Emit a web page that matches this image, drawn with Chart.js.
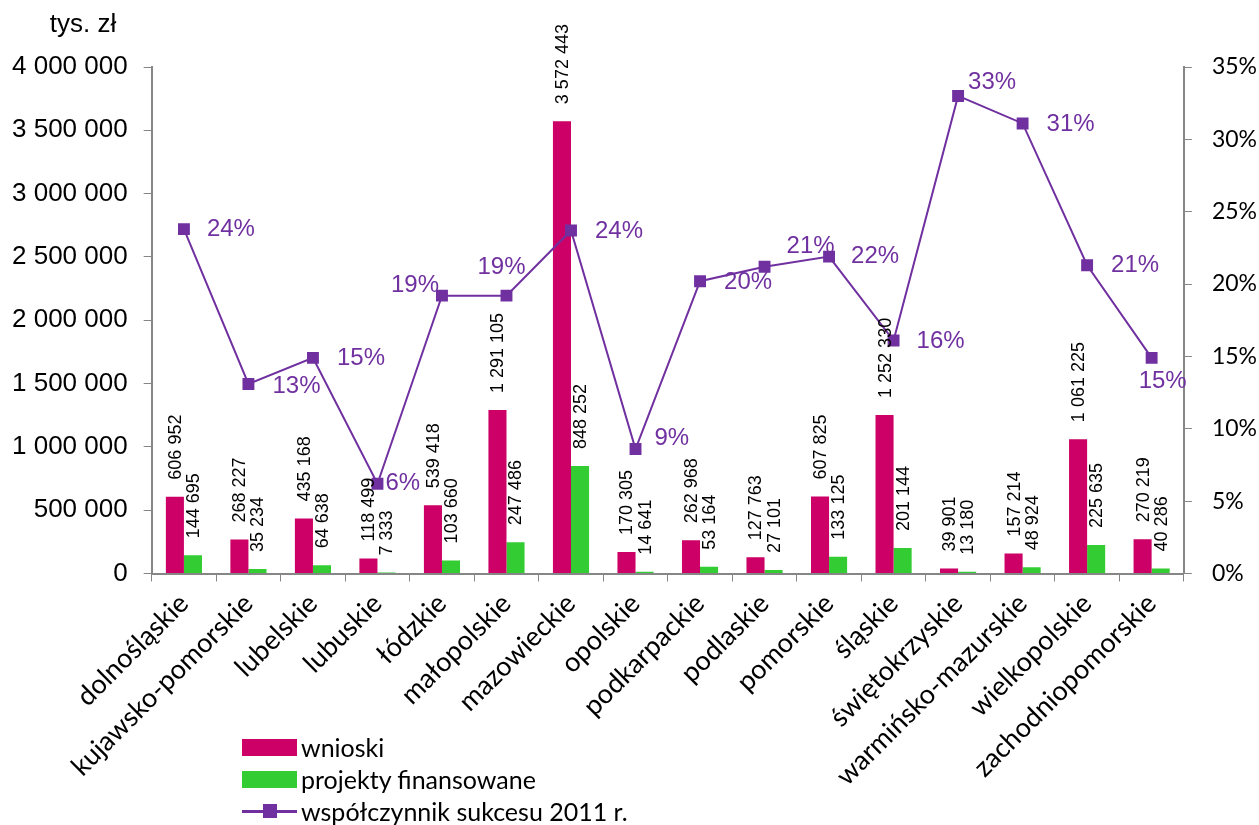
<!DOCTYPE html>
<html>
<head>
<meta charset="utf-8">
<script src="https://cdn.jsdelivr.net/npm/chart.js@4.4.1/dist/chart.umd.min.js"></script>
<style>
  body { margin: 0; background: #fff; }
  #wrap { position: relative; width: 1259px; height: 825px; }
  #legend { position: absolute; left: 242px; top: 731px; font-family: Lato, "Open Sans", sans-serif; font-size: 25px; color: #000; }
  #legend .item { display: flex; align-items: center; height: 32px; }
  #legend .sw { width: 55px; height: 17px; margin-right: 4px; position: relative; }
</style>
</head>
<body>
<div id="wrap">
  <canvas id="chart"></canvas>
  <div id="legend"></div>
</div>
<script>
// categories (voivodeships)
const categories = ['dolnośląskie', 'kujawsko-pomorskie', 'lubelskie', 'lubuskie', 'łódzkie', 'małopolskie',
  'mazowieckie', 'opolskie', 'podkarpackie', 'podlaskie', 'pomorskie', 'śląskie', 'świętokrzyskie',
  'warmińsko-mazurskie', 'wielkopolskie', 'zachodniopomorskie'];

// tys. zł
const wnioski = [606952, 268227, 435168, 118499, 539418, 1291105, 3572443, 170305, 262968, 127763,
  607825, 1252330, 39901, 157214, 1061225, 270219];
const projekty = [144695, 35234, 64638, 7333, 103660, 247486, 848252, 14641, 53164, 27101,
  133125, 201144, 13180, 48924, 225635, 40286];

// %
const wspolczynnik = [23.8, 13.1, 14.9, 6.2, 19.2, 19.2, 23.7, 8.6, 20.2, 21.2, 21.9, 16.1, 33.0, 31.1, 21.3, 14.9];

// where each % label sits relative to its marker (left edge of text, vertical centre)
const pctLabelOffset = [[23, 0], [24, 2], [24, 0], [8, 0], [-51, -10], [-29, -28], [24, 1], [19, -11],
  [24, 1], [22, -20], [22, 0], [23, 1], [10, -14], [24, 1], [24, 0], [-13, 23]];

const MAGENTA = '#CC0066';
const GREEN = '#33CC33';
const PURPLE = '#7030A0';
const AXIS = '#868686';

function fmt(v) {
  return String(v).replace(/\B(?=(\d{3})+(?!\d))/g, ' ');
}

// draws the rotated value labels above bars and the % labels by the line
const valueLabels = {
  id: 'valueLabels',
  afterDatasetsDraw(chart) {
    const ctx = chart.ctx;
    ctx.save();
    [0, 1].forEach(di => {
      const meta = chart.getDatasetMeta(di);
      const data = chart.data.datasets[di].data;
      meta.data.forEach((bar, i) => {
        ctx.save();
        ctx.translate(bar.x + 1, bar.y - 17);
        ctx.rotate(-Math.PI / 2);
        ctx.font = '18px "Liberation Sans", Arial, sans-serif';
        ctx.fillStyle = '#000';
        ctx.textAlign = 'left';
        ctx.textBaseline = 'middle';
        ctx.fillText(fmt(data[i]), 0, 0);
        ctx.restore();
      });
    });
    const lineMeta = chart.getDatasetMeta(2);
    ctx.font = '24px "Liberation Sans", Arial, sans-serif';
    ctx.fillStyle = PURPLE;
    ctx.textAlign = 'left';
    ctx.textBaseline = 'middle';
    lineMeta.data.forEach((pt, i) => {
      const [dx, dy] = pctLabelOffset[i];
      ctx.fillText(Math.round(wspolczynnik[i]) + '%', pt.x + dx, pt.y + dy);
    });
    // unit above left axis
    ctx.fillStyle = '#000';
    ctx.textAlign = 'center';
    ctx.font = '26px "Liberation Sans", Arial, sans-serif';
    ctx.fillText('tys. zł', 83, 25);
    ctx.restore();
  }
};

const ctx = document.getElementById('chart').getContext('2d');
const chart = new Chart(ctx, {
  type: 'bar',
  data: {
    labels: categories,
    datasets: [
      { label: 'wnioski', data: wnioski, backgroundColor: MAGENTA, yAxisID: 'y', order: 1,
        categoryPercentage: 0.56, barPercentage: 1.0 },
      { label: 'projekty finansowane', data: projekty, backgroundColor: GREEN, yAxisID: 'y', order: 1,
        categoryPercentage: 0.56, barPercentage: 1.0 },
      { type: 'line', label: 'współczynnik sukcesu 2011 r.', data: wspolczynnik, yAxisID: 'y1', order: 0,
        borderColor: PURPLE, backgroundColor: PURPLE, borderWidth: 2, pointStyle: 'rect',
        pointRadius: 7, pointHoverRadius: 7, tension: 0 }
    ]
  },
  options: {
    responsive: true,
    maintainAspectRatio: false,
    animation: false,
    // negative side padding pulls the axes out to where the original has them
    layout: { padding: { left: -4, right: -18, top: 67, bottom: 27 } },
    plugins: {
      legend: { display: false },
      tooltip: { enabled: false }
    },
    scales: {
      x: {
        grid: { display: true, drawOnChartArea: false, offset: true, color: AXIS, tickLength: 8, tickColor: AXIS },
        border: { color: AXIS, width: 2 },
        ticks: {
          minRotation: 45, maxRotation: 45, padding: 6, color: '#000',
          font: { family: 'Lato, "Open Sans", sans-serif', size: 27 }
        },
        afterFit(scale) {
          scale.paddingLeft = 0;
          scale.paddingRight = 0;
        }
      },
      y: {
        position: 'left', min: 0, max: 4000000,
        grid: { display: true, drawOnChartArea: false, color: AXIS, tickLength: 8, tickColor: AXIS },
        border: { color: AXIS, width: 2 },
        ticks: {
          stepSize: 500000, padding: 16, color: '#000',
          font: { family: '"Liberation Sans", Arial, sans-serif', size: 26 },
          callback: v => fmt(v)
        }
      },
      y1: {
        position: 'right', min: 0, max: 35,
        grid: { display: true, drawOnChartArea: false, color: AXIS, tickLength: 8, tickColor: AXIS },
        border: { color: AXIS, width: 2 },
        ticks: {
          stepSize: 5, padding: 20, color: '#000',
          font: { family: 'Lato, "Open Sans", sans-serif', size: 23 },
          callback: v => v + '%'
        }
      }
    }
  },
  plugins: [valueLabels]
});

// vertical legend, as in the original
const legendEl = document.getElementById('legend');
chart.data.datasets.forEach(ds => {
  const item = document.createElement('div');
  item.className = 'item';
  const sw = document.createElement('span');
  sw.className = 'sw';
  if (ds.type === 'line') {
    sw.innerHTML = '<span style="position:absolute;left:0;right:0;top:7px;height:3px;background:' + PURPLE + '"></span>' +
      '<span style="position:absolute;left:21px;top:1px;width:14px;height:14px;background:' + PURPLE + '"></span>';
  } else {
    sw.style.background = ds.backgroundColor;
  }
  const txt = document.createElement('span');
  txt.textContent = ds.label;
  item.appendChild(sw);
  item.appendChild(txt);
  legendEl.appendChild(item);
});
</script>
</body>
</html>
